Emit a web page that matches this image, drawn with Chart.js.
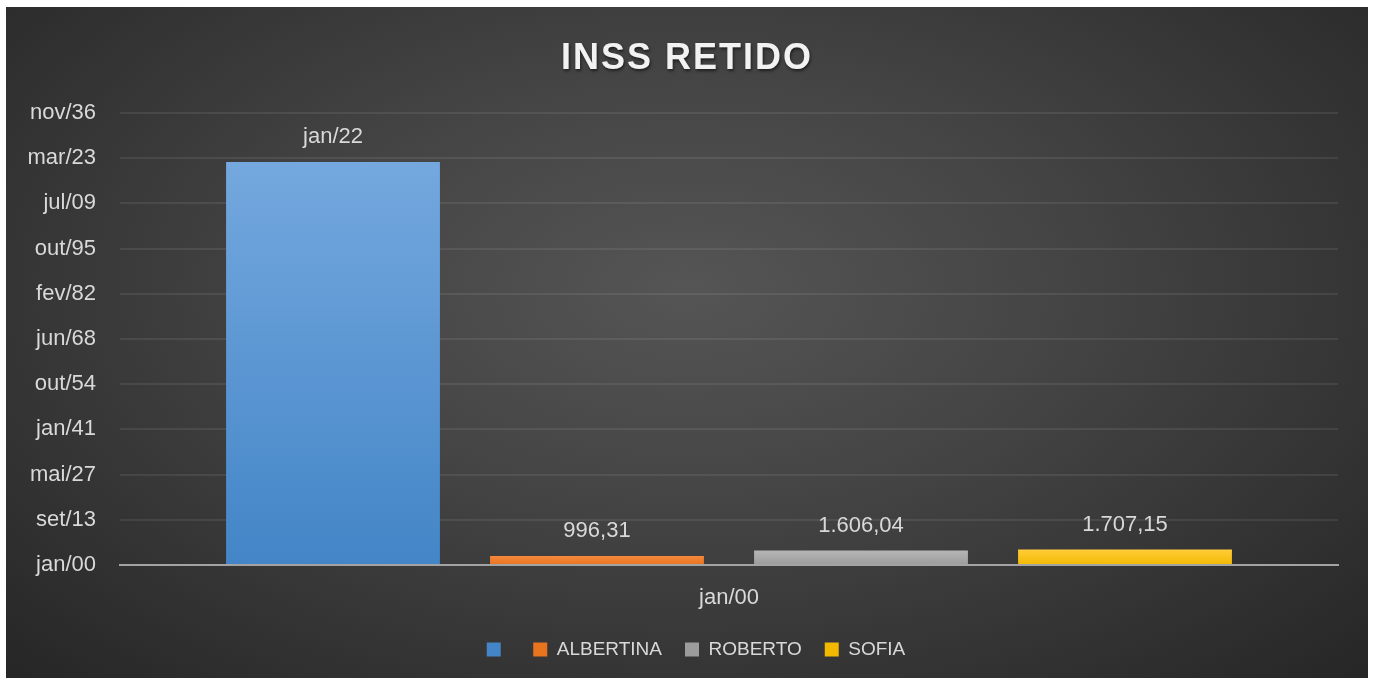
<!DOCTYPE html>
<html>
<head>
<meta charset="utf-8">
<script src="https://cdn.jsdelivr.net/npm/chart.js@4/dist/chart.umd.min.js"></script>
<style>
    body { margin: 0; background: #ffffff; }
    #quadro {
        position: absolute; left: 6px; top: 7px; width: 1362px; height: 671px;
        background: radial-gradient(ellipse farthest-corner at 50% 42%, #555555 0%, #444444 40%, #262626 100%);
    }
</style>
</head>
<body>
<div id="quadro"><canvas id="grafico" width="1362" height="671"></canvas></div>
<script>
const categorias = ['jan/00'];
const nomesSeries = ['', 'ALBERTINA', 'ROBERTO', 'SOFIA'];
const valoresSeries = [44570, 996.31, 1606.04, 1707.15];
const formatoRotulo = ['data', 'numero', 'numero', 'numero'];
const eixoY = { min: 0, max: 50000, passo: 5000 };

// cores (topo / base do degradê)
const corTopo = ['#74a8de', '#f5893d', '#b6b6b6', '#ffcd3a'];
const corBase = ['#4385c7', '#e9741f', '#9c9c9c', '#f3b900'];
const corLegenda = ['#5597d6', '#ef7d2c', '#a8a8a8', '#fcc313'];

const meses = ['jan', 'fev', 'mar', 'abr', 'mai', 'jun', 'jul', 'ago', 'set', 'out', 'nov', 'dez'];

// número de série do Excel -> "mmm/aa"
function serialParaData(v) {
    if (v < 1) return 'jan/00';
    const d = new Date(Date.UTC(1899, 11, 30) + Math.round(v) * 86400000);
    return meses[d.getUTCMonth()] + '/' + String(d.getUTCFullYear() % 100).padStart(2, '0');
}

function numeroBR(v) {
    const partes = v.toFixed(2).split('.');
    partes[0] = partes[0].replace(/\B(?=(\d{3})+(?!\d))/g, '.');
    return partes.join(',');
}

const pluginTitulo = {
    id: 'tituloExcel',
    afterDraw(chart) {
        const c = chart.ctx;
        c.save();
        c.font = 'bold 36px "Liberation Sans"';
        c.letterSpacing = '2px';
        c.textAlign = 'center';
        c.textBaseline = 'alphabetic';
        c.shadowColor = 'rgba(0,0,0,0.55)';
        c.shadowBlur = 3;
        c.shadowOffsetX = 1;
        c.shadowOffsetY = 2;
        c.fillStyle = '#f2f2f2';
        c.fillText('INSS RETIDO', chart.width / 2, 62);
        c.restore();
    }
};

const pluginRotulos = {
    id: 'rotulosDados',
    afterDatasetsDraw(chart) {
        const c = chart.ctx;
        c.save();
        c.font = '22px "Liberation Sans"';
        c.fillStyle = '#d9d9d9';
        c.textAlign = 'center';
        c.textBaseline = 'middle';
        chart.data.datasets.forEach((ds, i) => {
            const meta = chart.getDatasetMeta(i);
            meta.data.forEach((bar, j) => {
                const v = ds.data[j];
                const txt = formatoRotulo[i] === 'data' ? serialParaData(v) : numeroBR(v);
                c.fillText(txt, bar.x, bar.y - 25);
            });
        });
        c.restore();
    }
};

// legenda centralizada um pouco à direita, como no Excel
const pluginLegenda = {
    id: 'ajusteLegenda',
    afterLayout(chart) {
        if (chart.legend) chart.legend.left = 48;
    }
};

function degrade(i) {
    return function (ctx) {
        const chart = ctx.chart;
        const area = chart.chartArea;
        if (!area || ctx.type !== 'data') return corLegenda[i];
        const yTopo = chart.scales.y.getPixelForValue(ctx.raw);
        const g = chart.ctx.createLinearGradient(0, yTopo, 0, area.bottom);
        g.addColorStop(0, corTopo[i]);
        g.addColorStop(1, corBase[i]);
        return g;
    };
}

const ctx = document.getElementById('grafico').getContext('2d');
const grafico = new Chart(ctx, {
    type: 'bar',
    data: {
        labels: categorias,
        datasets: nomesSeries.map((nome, i) => ({
            label: nome,
            data: [valoresSeries[i]],
            backgroundColor: degrade(i),
            borderWidth: 0,
            categoryPercentage: 0.867,
            barPercentage: 0.81
        }))
    },
    options: {
        responsive: false,
        animation: false,
        layout: { padding: { top: 106, right: 30, left: 0, bottom: 9 } },
        plugins: {
            title: { display: false },
            tooltip: { enabled: false },
            legend: {
                position: 'bottom',
                labels: {
                    boxWidth: 14,
                    boxHeight: 14,
                    padding: 23,
                    color: '#d9d9d9',
                    font: { family: 'Liberation Sans', size: 19 }
                }
            }
        },
        scales: {
            y: {
                min: eixoY.min,
                max: eixoY.max,
                afterFit(scale) { scale.width = 114; },
                ticks: {
                    stepSize: eixoY.passo,
                    padding: 24,
                    color: '#d9d9d9',
                    font: { family: 'Liberation Sans', size: 22 },
                    callback: (v) => serialParaData(v)
                },
                grid: { color: 'rgba(255,255,255,0.08)', lineWidth: 2, drawTicks: false },
                border: { display: false }
            },
            x: {
                z: 1,
                afterFit(scale) { scale.height = 52; },
                ticks: {
                    padding: 20,
                    color: '#d9d9d9',
                    font: { family: 'Liberation Sans', size: 22 }
                },
                grid: { display: false, drawTicks: false },
                border: { display: true, color: '#a3a3a3', width: 2 }
            }
        }
    },
    plugins: [pluginTitulo, pluginRotulos, pluginLegenda]
});
</script>
</body>
</html>
